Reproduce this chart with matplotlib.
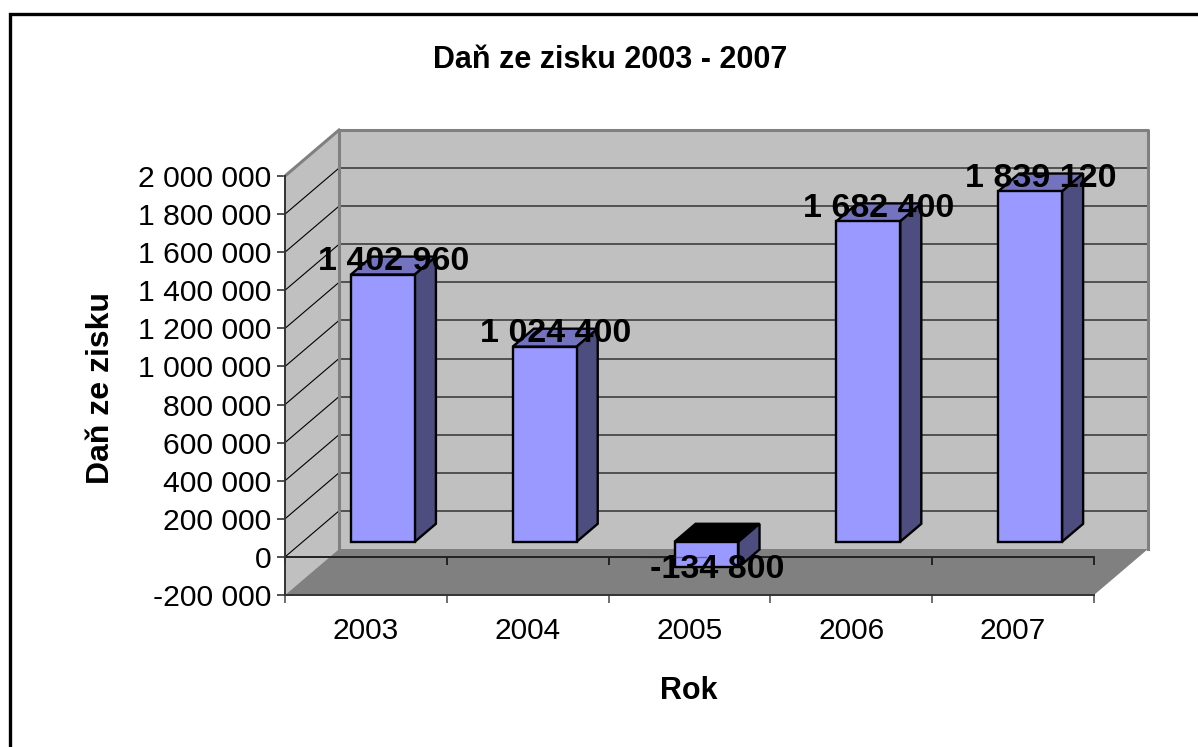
import matplotlib
matplotlib.use('Agg')
import matplotlib.pyplot as plt
from matplotlib.lines import Line2D
from matplotlib.patches import Polygon

plt.rcParams['font.family'] = ['Liberation Sans', 'DejaVu Sans']

# hodnoty z grafu
years = ['2003', '2004', '2005', '2006', '2007']
tax = [1402960, 1024400, -134800, 1682400, 1839120]
tax_labels = ['1 402 960', '1 024 400', '-134 800', '1 682 400', '1 839 120']
y_ticks = [-200000, 0, 200000, 400000, 600000, 800000, 1000000, 1200000, 1400000, 1600000, 1800000, 2000000]
y_tick_labels = ['-200 000', '0', '200 000', '400 000', '600 000', '800 000', '1 000 000',
                 '1 200 000', '1 400 000', '1 600 000', '1 800 000', '2 000 000']

W, H = 1198, 747
fig = plt.figure(figsize=(W / 100, H / 100), dpi=100)
ax = fig.add_axes([285 / W, 1 - 595 / H, (1094 - 285) / W, (595 - 176) / H])
ax.set_xlim(0, 5)
ax.set_ylim(-200000, 2000000)
ax.patch.set_visible(False)

# falesne 3D - posun hloubky v jednotkach os
DX = 54 / (809 / 5)
DY = 46 / (419 / 2200000)


def pt(x, v, d=0.0):
    return (x + d * DX, v + d * DY)


def face(points, color, edge='none', lw=0, z=1):
    ax.add_patch(Polygon([pt(*p) for p in points], closed=True, facecolor=color,
                         edgecolor=edge, linewidth=lw, zorder=z, clip_on=False, joinstyle='miter'))


ymin, ymax = y_ticks[0], y_ticks[-1]

# steny a podlaha
face([(0, ymin, 1), (5, ymin, 1), (5, ymax, 1), (0, ymax, 1)], '#c0c0c0', z=1)
face([(0, ymin, 0), (0, ymin, 1), (0, ymax, 1), (0, ymax, 0)], '#c0c0c0', z=1)

# mrizka
for v in y_ticks[1:]:
    ax.plot(*zip(pt(0, v, 1), pt(5, v, 1)), color='#333333', lw=1.1, zorder=1.5, clip_on=False)
    ax.plot(*zip(pt(0, v, 0), pt(0, v, 1)), color='black', lw=0.8, zorder=1.5, clip_on=False)

# okraje sten
wall = [pt(0, ymin, 1), pt(0, ymax, 1), pt(5, ymax, 1), pt(5, ymin, 1)]
ax.plot(*zip(*wall), color='#808080', lw=2.2, zorder=1.7, clip_on=False)
ax.plot(*zip(pt(0, ymax, 0), pt(0, ymax, 1)), color='#808080', lw=2.2, zorder=1.7, clip_on=False)

face([(0, ymin, 0), (5, ymin, 0), (5, ymin, 1), (0, ymin, 1)], '#808080', z=2)

# osa v nule a jeji znacky
ax.plot([0, 5], [0, 0], color='#222222', lw=1.4, zorder=3, clip_on=False)
ax.vlines(range(6), -42000, 0, color='#222222', lw=1.4, zorder=3, clip_on=False)

# sloupce
BAR_W = 0.395
D0, D1 = 0.33, 0.72
for i, v in enumerate(tax):
    x0, x1 = i + 0.495 - BAR_W / 2, i + 0.495 + BAR_W / 2
    z = 4 + i * 0.1
    top_color = '#000000' if v < 0 else '#7373bf'
    face([(x0, v, D0), (x1, v, D0), (x1, v, D1), (x0, v, D1)] if v > 0 else
         [(x0, 0, D0), (x1, 0, D0), (x1, 0, D1), (x0, 0, D1)],
         top_color, 'black', 1.7, z)
    face([(x1, 0, D0), (x1, v, D0), (x1, v, D1), (x1, 0, D1)], '#4d4d80', 'black', 1.7, z)
    face([(x0, 0, D0), (x1, 0, D0), (x1, v, D0), (x0, v, D0)], '#9999ff', 'black', 1.7, z)

# osa prosvita pres zaporny sloupec
ax.plot([2.2, 2.6], [0, 0], color='#222222', lw=1, alpha=0.45, zorder=5, clip_on=False)

# popisky hodnot
for i, v in enumerate(tax):
    xy = pt(i + 0.495, v, (D0 + D1) / 2)
    ax.annotate(tax_labels[i], xy, xytext=(0, 3 if v > 0 else -8), textcoords='offset points',
                ha='center', va='center', fontsize=24.5, fontweight='bold', color='black',
                zorder=10, annotation_clip=False)

# osy
for s in ['top', 'right']:
    ax.spines[s].set_visible(False)
for s in ['left', 'bottom']:
    ax.spines[s].set_color('#333333')
    ax.spines[s].set_linewidth(1.4)
    ax.spines[s].set_zorder(6)
ax.set_yticks(y_ticks)
ax.set_yticklabels(y_tick_labels)
ax.set_xticks(range(6))
ax.set_xticklabels([])
ax.set_xticks([i + 0.5 for i in range(5)], minor=True)
ax.set_xticklabels(years, minor=True)
ax.tick_params(axis='x', which='major', length=6, width=1.2, color='#555555')
ax.tick_params(axis='x', which='minor', length=0, labelsize=21.5, pad=16)
ax.tick_params(axis='y', length=6, width=1.2, color='#333333', labelsize=21.7, pad=4)

fig.text(610 / W, 1 - 60 / H, 'Daň ze zisku 2003 - 2007', ha='center', va='center',
         fontsize=22, fontweight='bold')
fig.text(101 / W, 1 - 388 / H, 'Daň ze zisku', ha='center', va='center', rotation=90,
         fontsize=23, fontweight='bold')
fig.text(689 / W, 1 - 691 / H, 'Rok', ha='center', va='center', fontsize=22, fontweight='bold')

# ramecek - jen nahore a vlevo, zbytek je oriznuty
fig.add_artist(Line2D([9.5 / W, 9.5 / W, 1], [0, 1 - 13.5 / H, 1 - 13.5 / H], transform=fig.transFigure,
                      color='black', linewidth=2.4, solid_joinstyle='miter'))

fig.savefig('out.png', dpi=100)
